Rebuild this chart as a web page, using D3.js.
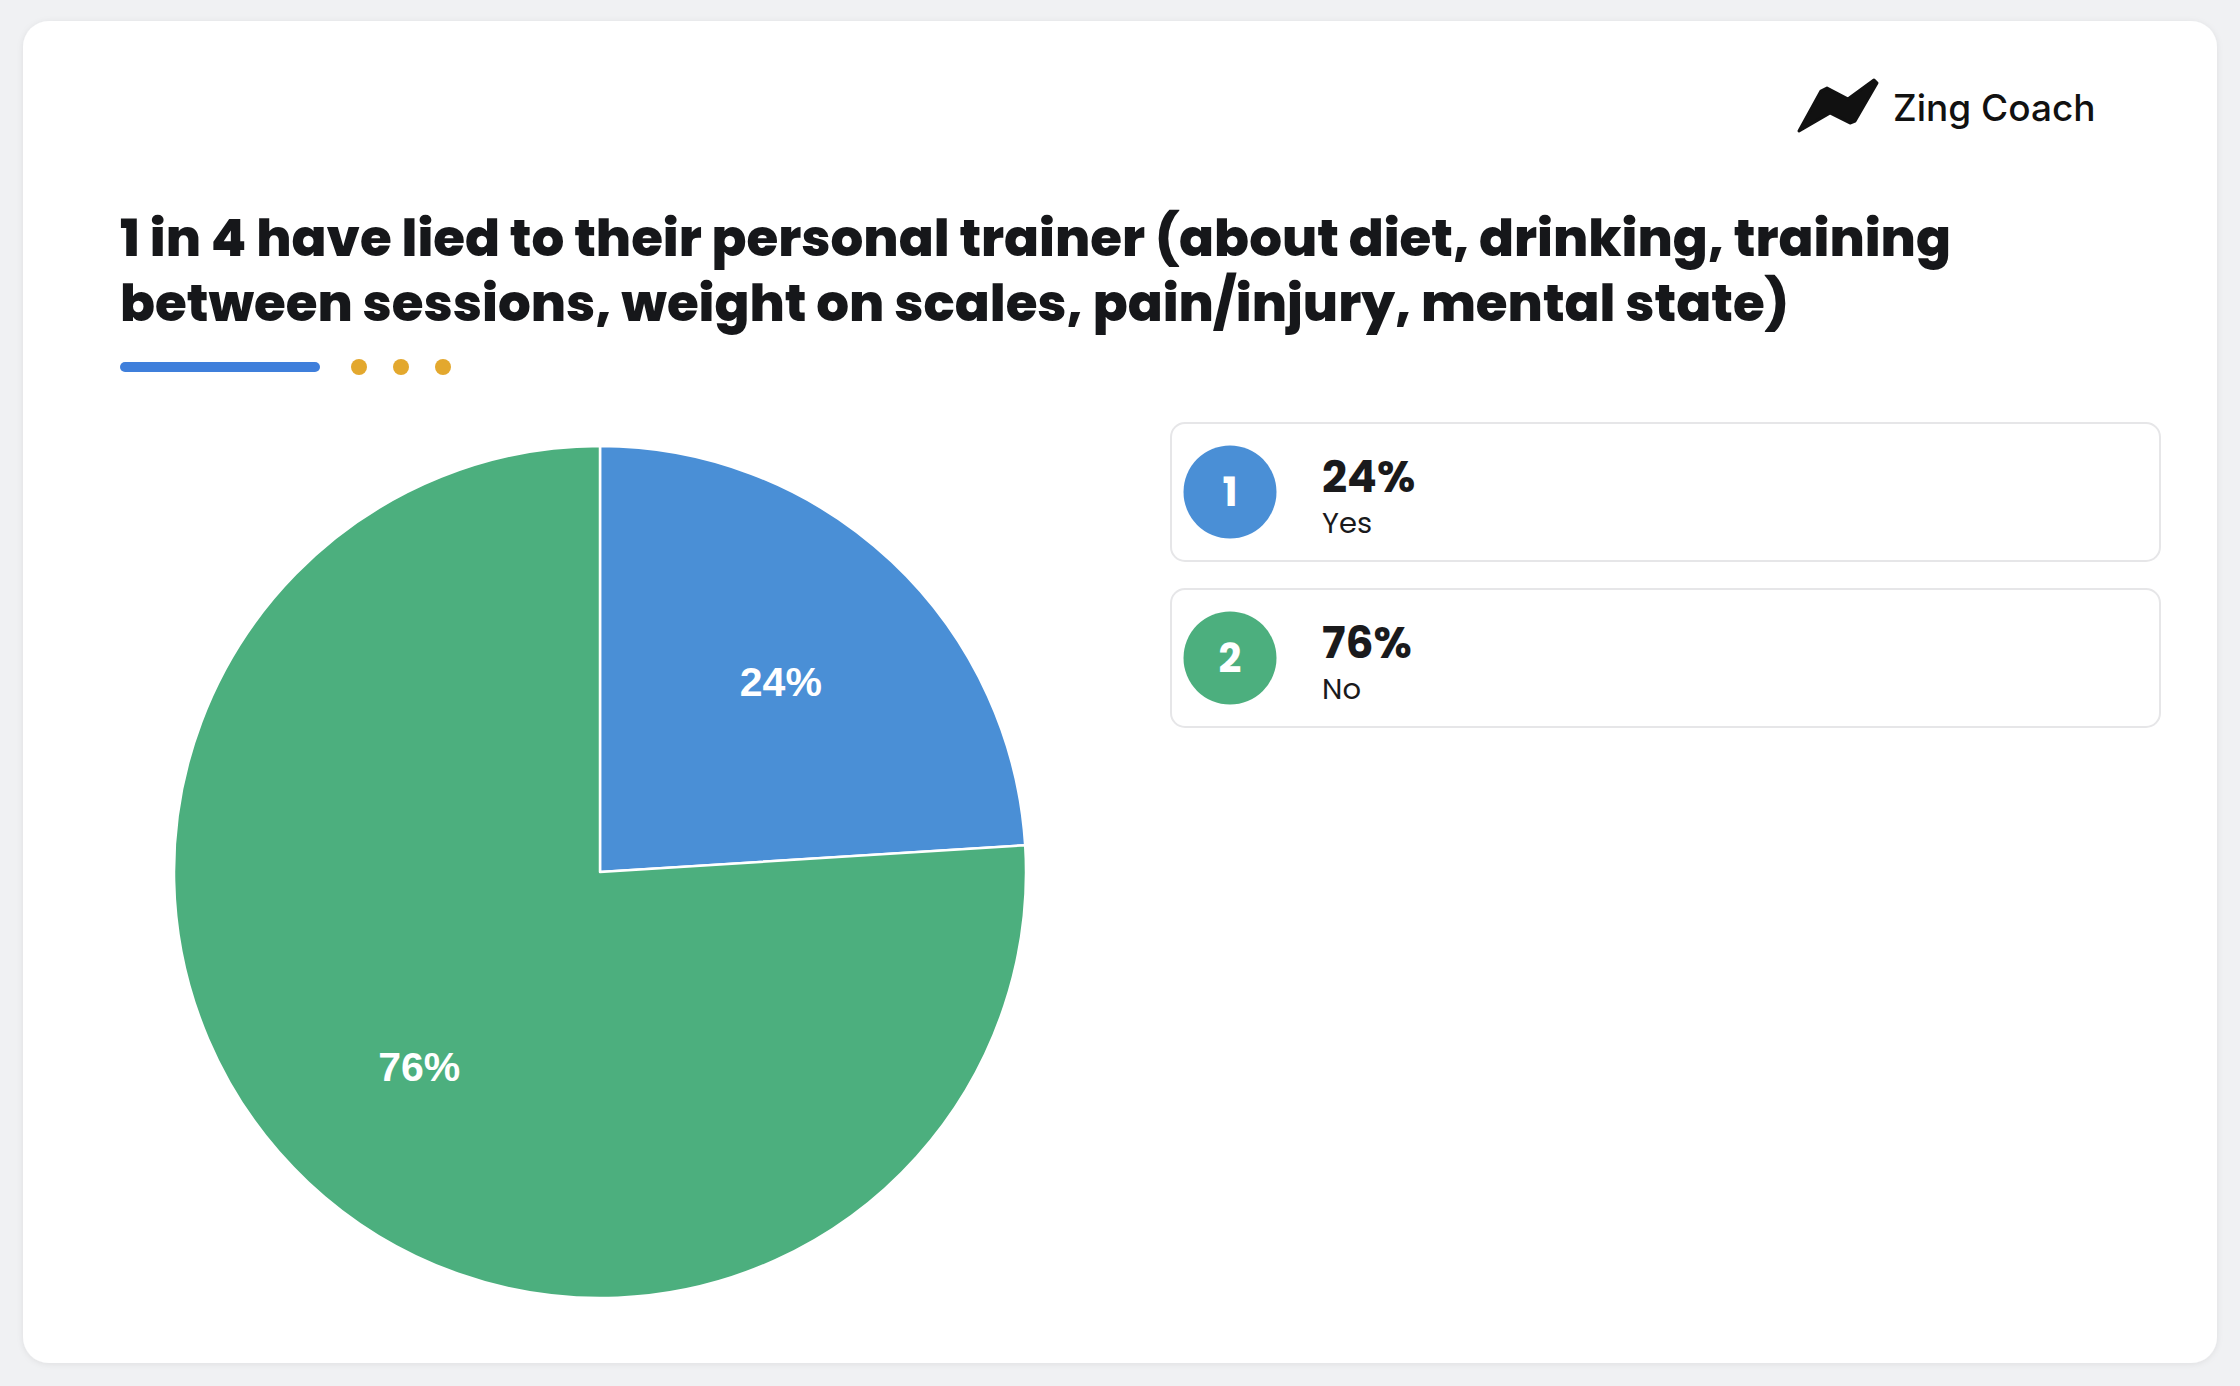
<!DOCTYPE html>
<html>
<head>
<meta charset="utf-8">
<script src="https://cdn.jsdelivr.net/npm/d3@7"></script>
<style>
  html, body { margin: 0; padding: 0; background: #f0f1f3; }
  svg { display: block; }
</style>
</head>
<body>
<div id="chart"></div>
<script>
// chart data
const categories = ["Yes", "No"];
const values = [24, 76];
const colors = ["#4a8fd6", "#4caf7e"];
const titleLines = [
  "1 in 4 have lied to their personal trainer (about diet, drinking, training",
  "between sessions, weight on scales, pain/injury, mental state)"
];

const W = 2240, H = 1386;
const titleFont = "Poppins, Inter, 'Open Sans', sans-serif";

const svg = d3.select("#chart").append("svg")
    .attr("width", W)
    .attr("height", H);

// card shadow
const defs = svg.append("defs");
const f = defs.append("filter").attr("id", "shadow")
    .attr("x", "-5%").attr("y", "-5%").attr("width", "110%").attr("height", "110%");
f.append("feDropShadow").attr("dx", 0).attr("dy", 1).attr("stdDeviation", 3)
    .attr("flood-color", "#000").attr("flood-opacity", 0.08);

svg.append("rect")
    .attr("x", 23).attr("y", 21)
    .attr("width", 2194).attr("height", 1342)
    .attr("rx", 26)
    .attr("fill", "#fff")
    .attr("filter", "url(#shadow)");

// logo
const logo = svg.append("g");
logo.append("path")
    .attr("d", "M1799,131 L1821,91 L1827,88 L1848,99 L1874,80 L1877,83 L1855,121 L1850,123 L1830,113 Z")
    .attr("fill", "#111")
    .attr("stroke", "#111")
    .attr("stroke-width", 3)
    .attr("stroke-linejoin", "round");
logo.append("text")
    .attr("x", 1893).attr("y", 121)
    .attr("font-family", "Inter, sans-serif")
    .attr("font-weight", 500)
    .attr("font-size", 37)
    .attr("fill", "#111")
    .text("Zing Coach");

// title
svg.append("g").selectAll("text")
    .data(titleLines)
    .join("text")
    .attr("x", 120)
    .attr("y", (d, i) => 256 + i * 65)
    .attr("font-family", titleFont)
    .attr("font-weight", 800)
    .attr("font-size", 51.5)
    .attr("fill", "#16171a")
    .text(d => d);

// decoration under title
svg.append("rect")
    .attr("x", 120).attr("y", 362)
    .attr("width", 200).attr("height", 10)
    .attr("rx", 5)
    .attr("fill", "#3f7fdb");
svg.append("g").selectAll("circle")
    .data([0, 1, 2])
    .join("circle")
    .attr("cx", d => 359 + d * 42)
    .attr("cy", 367)
    .attr("r", 8)
    .attr("fill", "#e3a82e");

// pie
const cx = 600, cy = 872, radius = 426;
const pie = d3.pie().sort(null).value(d => d.value);
const arcs = pie(categories.map((c, i) => ({ name: c, value: values[i], color: colors[i] })));
const arc = d3.arc().innerRadius(0).outerRadius(radius);
const labelArc = d3.arc().innerRadius(radius * 0.62).outerRadius(radius * 0.62);

const pg = svg.append("g").attr("transform", `translate(${cx},${cy})`);
pg.selectAll("path")
    .data(arcs)
    .join("path")
    .attr("d", arc)
    .attr("fill", d => d.data.color)
    .attr("stroke", "#fff")
    .attr("stroke-width", 2.5)
    .attr("stroke-linejoin", "round");

pg.selectAll("text")
    .data(arcs)
    .join("text")
    .attr("transform", d => `translate(${labelArc.centroid(d)})`)
    .attr("text-anchor", "middle")
    .attr("dy", "0.4em")
    .attr("font-family", "'Liberation Sans', Arial, sans-serif")
    .attr("font-weight", 700)
    .attr("font-size", 41)
    .attr("fill", "#fff")
    .text(d => d.data.value + "%");

// legend cards
const legend = svg.append("g").selectAll("g")
    .data(arcs)
    .join("g")
    .attr("transform", (d, i) => `translate(1171,${423 + i * 166})`);

legend.append("rect")
    .attr("width", 989).attr("height", 138)
    .attr("rx", 14)
    .attr("fill", "#fff")
    .attr("stroke", "#e6e6e8")
    .attr("stroke-width", 2);

legend.append("circle")
    .attr("cx", 59).attr("cy", 69).attr("r", 46.5)
    .attr("fill", d => d.data.color);

legend.append("text")
    .attr("x", 59).attr("y", 69)
    .attr("dy", "0.36em")
    .attr("text-anchor", "middle")
    .attr("font-family", titleFont)
    .attr("font-weight", 700)
    .attr("font-size", 40)
    .attr("fill", "#fff")
    .text((d, i) => i + 1);

legend.append("text")
    .attr("x", 151).attr("y", 69)
    .attr("font-family", titleFont)
    .attr("font-weight", 700)
    .attr("font-size", 44)
    .attr("fill", "#1a1a1c")
    .text(d => d.data.value + "%");

legend.append("text")
    .attr("x", 151).attr("y", 110)
    .attr("font-family", titleFont)
    .attr("font-weight", 400)
    .attr("font-size", 29)
    .attr("fill", "#1a1a1c")
    .text(d => d.data.name);
</script>
</body>
</html>
